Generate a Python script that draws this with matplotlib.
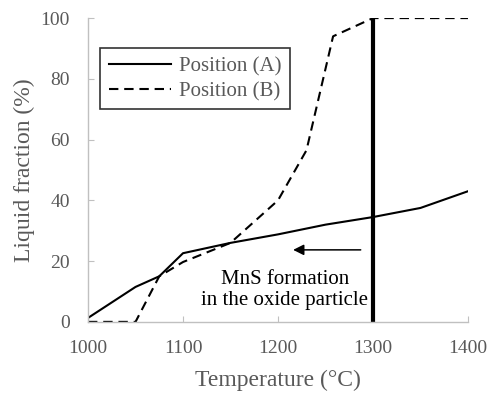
import matplotlib.pyplot as plt

# liquid fraction vs temperature
temp_a = [1000, 1050, 1075, 1100, 1150, 1200, 1250, 1300, 1350, 1400]
frac_a = [1.3, 11.5, 15.0, 22.6, 26.0, 28.8, 32.0, 34.5, 37.5, 43.0]

temp_b = [1000, 1050, 1075, 1100, 1150, 1200, 1230, 1258, 1300, 1400]
frac_b = [0.0, 0.0, 15.0, 19.7, 26.0, 40.0, 56.5, 94.0, 100.0, 100.0]

xticks = [1000, 1100, 1200, 1300, 1400]
yticks = [0, 20, 40, 60, 80, 100]

plt.rcParams['font.family'] = ['Liberation Serif', 'DejaVu Serif']
grey = '#595959'

fig = plt.figure(figsize=(4.89, 3.93), dpi=100)
ax = fig.add_axes([0.18, 0.181, 0.777, 0.773])

ax.plot(temp_a, frac_a, color='k', linewidth=1.5, label='Position (A)')
ax.plot(temp_b, frac_b, color='k', linewidth=1.5, linestyle=(0, (4.5, 2.8)), label='Position (B)')

# MnS formation marker
ax.plot([1300, 1300], [0, 100], color='k', linewidth=3, solid_capstyle='butt')
ax.annotate('', xy=(1213, 23.7), xytext=(1290, 23.7),
            arrowprops=dict(arrowstyle='-|>', color='k', lw=1.1, mutation_scale=16))
ax.text(1207, 10.5, 'MnS formation\nin the oxide particle', ha='center', va='center',
        fontsize=15, color='k', linespacing=1.2)

ax.set_xlim(1000, 1400)
ax.set_ylim(0, 100)
ax.set_xticks(xticks)
ax.set_yticks(yticks)

for s in ['top', 'right']:
    ax.spines[s].set_visible(False)
for s in ['left', 'bottom']:
    ax.spines[s].set_color('#c0c0c0')
    ax.spines[s].set_linewidth(1)
ax.tick_params(direction='in', length=4, color='#c0c0c0', labelcolor=grey, labelsize=14)
ax.tick_params(axis='x', pad=13)
ax.tick_params(axis='y', pad=13)

ax.set_xlabel('Temperature (°C)', fontsize=17, color=grey, labelpad=9)
ax.set_ylabel('Liquid fraction (%)', fontsize=17, color=grey, labelpad=4)

leg = ax.legend(loc='upper left', bbox_to_anchor=(0.032, 0.90), fontsize=15, frameon=True,
                fancybox=False, edgecolor='k', handlelength=3, handletextpad=0.4,
                borderpad=0.4, labelspacing=0.25, borderaxespad=0)
leg.get_frame().set_linewidth(1.2)
for t in leg.get_texts():
    t.set_color(grey)

fig.savefig('out.png', dpi=100)
